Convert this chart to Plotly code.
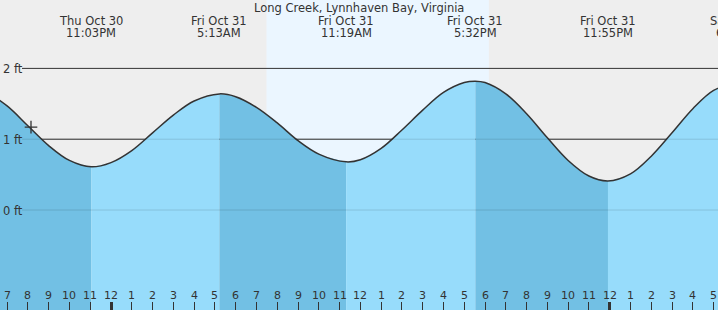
import pandas as pd
import plotly.graph_objects as go

chart_title = "Long Creek, Lynnhaven Bay, Virginia"

# Tide height readings (local time, feet) taken off the curve
tide_times = [
    "2025-10-30 17:00", "2025-10-30 18:00", "2025-10-30 19:00", "2025-10-30 20:00",
    "2025-10-30 21:00", "2025-10-30 22:00", "2025-10-30 23:03",
    "2025-10-31 00:00", "2025-10-31 01:00", "2025-10-31 02:00", "2025-10-31 03:00",
    "2025-10-31 04:00", "2025-10-31 05:13",
    "2025-10-31 06:00", "2025-10-31 07:00", "2025-10-31 08:00", "2025-10-31 09:00",
    "2025-10-31 10:00", "2025-10-31 11:19",
    "2025-10-31 12:00", "2025-10-31 13:00", "2025-10-31 14:00", "2025-10-31 15:00",
    "2025-10-31 16:00", "2025-10-31 17:00", "2025-10-31 17:32",
    "2025-10-31 18:00", "2025-10-31 19:00", "2025-10-31 20:00", "2025-10-31 21:00",
    "2025-10-31 22:00", "2025-10-31 23:00", "2025-10-31 23:55",
    "2025-11-01 01:00", "2025-11-01 02:00", "2025-11-01 03:00", "2025-11-01 04:00",
    "2025-11-01 05:00", "2025-11-01 06:09",
]
tide_heights = [
    1.74, 1.66, 1.47, 1.19,
    0.91, 0.70, 0.61,
    0.67, 0.84, 1.09, 1.34,
    1.54, 1.64,
    1.60, 1.45, 1.23, 0.98,
    0.79, 0.68,
    0.71, 0.87, 1.13, 1.41,
    1.66, 1.80, 1.82,
    1.80, 1.64, 1.36, 1.02,
    0.70, 0.48, 0.41,
    0.51, 0.76, 1.09, 1.43,
    1.69, 1.80,
]

# High / low tide events
extreme_times = ["2025-10-30 23:03", "2025-10-31 05:13", "2025-10-31 11:19",
                 "2025-10-31 17:32", "2025-10-31 23:55", "2025-11-01 06:09"]
extreme_days = ["Thu Oct 30", "Fri Oct 31", "Fri Oct 31", "Fri Oct 31", "Fri Oct 31", "Sat Nov 1"]
extreme_clock = ["11:03PM", "5:13AM", "11:19AM", "5:32PM", "11:55PM", "6:09AM"]

sunrise = "2025-10-31 07:29"
sunset = "2025-10-31 18:11"

now_time = ["2025-10-30 20:09"]
now_height = [1.17]

hour_ticks = pd.date_range("2025-10-30 19:00", "2025-11-01 05:00", freq="h")
hour_labels = ["7", "8", "9", "10", "11", "12", "1", "2", "3", "4", "5", "6",
               "7", "8", "9", "10", "11", "12", "1", "2", "3", "4", "5", "6",
               "7", "8", "9", "10", "11", "12", "1", "2", "3", "4", "5"]

level_values = [0, 1, 2]
level_labels = ["0 ft", "1 ft", "2 ft"]

x_range = [pd.Timestamp("2025-10-30 18:39:30"), pd.Timestamp("2025-11-01 05:12:40")]
y_range = [-1.412, 2.966]

FONT = "DejaVu Sans"
TXT = "#333333"
BG = "#EEEEEE"
DAY = "#EBF6FF"
FALL = "#72C0E4"
RISE = "#97DCFB"

times = pd.to_datetime(tide_times)
ext_set = set(pd.to_datetime(extreme_times))

fig = go.Figure()

# filled tide segments (falling = darker, rising = lighter)
cuts = sorted(set([0] + [i for i, t in enumerate(times) if t in ext_set] + [len(times) - 1]))
for a, b in zip(cuts[:-1], cuts[1:]):
    sx = list(times[a:b + 1])
    sy = tide_heights[a:b + 1]
    col = FALL if sy[-1] < sy[0] else RISE
    fig.add_trace(go.Scatter(x=[sx[0], sx[-1]], y=[y_range[0], y_range[0]], mode="lines",
                             line=dict(width=0), hoverinfo="skip", showlegend=False))
    fig.add_trace(go.Scatter(x=sx, y=sy, mode="lines", fill="tonexty", fillcolor=col,
                             line=dict(width=0, shape="spline", smoothing=1),
                             hoverinfo="skip", showlegend=False))

# outline
fig.add_trace(go.Scatter(x=times, y=tide_heights, mode="lines",
                         line=dict(color="#333333", width=1.5, shape="spline", smoothing=1),
                         showlegend=False))

# current time marker
fig.add_trace(go.Scatter(x=pd.to_datetime(now_time), y=now_height, mode="markers",
                         marker=dict(symbol="cross-thin", size=9,
                                     line=dict(color="#333333", width=1.3)),
                         showlegend=False))

shapes = [dict(type="rect", xref="x", yref="paper", x0=sunrise, x1=sunset, y0=0, y1=1,
               fillcolor=DAY, line=dict(width=0), layer="below")]
for v in level_values:
    if v > 0:
        shapes.append(dict(type="line", xref="paper", yref="y", x0=22 / 718, x1=1, y0=v, y1=v,
                           line=dict(color="#333333", width=1), layer="below"))
    if v < 2:
        shapes.append(dict(type="line", xref="paper", yref="y", x0=22 / 718, x1=1, y0=v, y1=v,
                           line=dict(color="rgba(0,0,0,0.12)", width=1), layer="above"))

ann = [dict(text=chart_title, xref="paper", yref="paper", x=0.5, y=1, xanchor="center",
            yanchor="middle", yshift=-8, showarrow=False,
            font=dict(family=FONT, size=11.5, color=TXT))]

span = (x_range[1] - x_range[0])
for t, d, c in zip(extreme_times, extreme_days, extreme_clock):
    px = (pd.Timestamp(t) - x_range[0]) / span
    ann.append(dict(text=d, xref="paper", yref="paper", x=px, y=1, xanchor="center",
                    yanchor="middle", yshift=-20.5, showarrow=False,
                    font=dict(family=FONT, size=11.5, color=TXT)))
    ann.append(dict(text=c, xref="paper", yref="paper", x=px, y=1, xanchor="center",
                    yanchor="middle", yshift=-32.5, showarrow=False,
                    font=dict(family=FONT, size=11.5, color=TXT)))

for v, lab in zip(level_values, level_labels):
    ann.append(dict(text=lab, xref="paper", yref="y", x=0, y=v, xanchor="left", yanchor="middle",
                    xshift=1, yshift=-1, showarrow=False, font=dict(family=FONT, size=11.5, color=TXT)))

for t, lab in zip(hour_ticks, hour_labels):
    ann.append(dict(text=lab, xref="x", yref="paper", x=t, y=0, xanchor="center",
                    yanchor="middle", yshift=14.5, showarrow=False,
                    font=dict(family=FONT, size=11, color=TXT)))

fig.update_layout(
    width=718, height=310, margin=dict(l=0, r=0, t=0, b=0),
    paper_bgcolor=BG, plot_bgcolor=BG, showlegend=False,
    shapes=shapes, annotations=ann,
    xaxis=dict(range=x_range, showgrid=False, zeroline=False, showline=False,
               showticklabels=False, ticks="inside", tickmode="linear",
               tick0="2025-10-31 00:00", dtick=86400000, ticklen=8, tickwidth=3,
               tickcolor="#333333",
               minor=dict(ticks="inside", dtick=3600000, tick0="2025-10-31 00:00",
                          ticklen=8, tickwidth=1, tickcolor="#333333", showgrid=False)),
    yaxis=dict(range=y_range, showgrid=False, zeroline=False, showline=False,
               showticklabels=False, ticks=""),
)

fig.write_html("out.html")
